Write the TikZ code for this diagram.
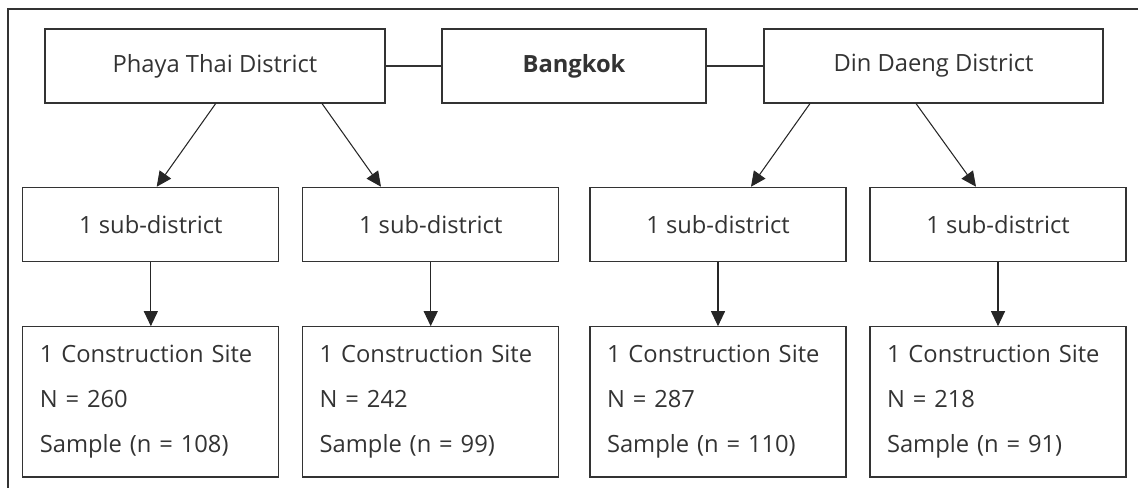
\documentclass[tikz,border=0pt]{standalone}
\usepackage{fontspec}
\setmainfont{Open Sans}
\usetikzlibrary{arrows.meta, positioning}
\tikzset{
    box/.style={draw=black!80, line width=0.6pt, minimum height=1.48cm, inner sep=0pt, text=black!80, font=\fontsize{13.5}{16}\selectfont}, % top boxes
    sub/.style={box, minimum width=5.12cm, minimum height=1.49cm}, % sub-district boxes
    site/.style={box, minimum width=5.12cm, minimum height=3.006cm, text width=4.44cm, align=left, font=\fontsize{13.5}{25.6}\selectfont}, % construction sites
}
\tikzstyle{arrow} = [line width=0.6pt, draw=black!85, -{Triangle[length=0.3cm, width=0.28cm]}]

\begin{document}
\begin{tikzpicture}
                [node distance=3.547cm, on grid]
                \useasboundingbox (0,0) rectangle (22.76,-9.76);
                \draw[line width=0.7pt, black!80] (22.76,-0.18) -- (0.16,-0.18) -- (0.16,-9.76);

                % Districts
                \node[box, minimum width=5.28cm] (bkk) at (11.48,-1.32) {\bfseries Bangkok};
                \node[box, minimum width=6.8cm] (pt) [left=7.18cm of bkk] {Phaya Thai District};
                \node[box, minimum width=6.78cm] (dd) [right=7.19cm of bkk] {Din Daeng District};

                % Sub-districts
                \node[sub] (pt1) at (3.017,-4.49) {1 sub-district};
                \node[sub] (pt2) at (8.614,-4.49) {1 sub-district};
                \node[sub] (dd1) at (14.36,-4.49) {1 sub-district};
                \node[sub] (dd2) at (19.96,-4.49) {1 sub-district};

                % Sites
                \node[site] (c1) [below=of pt1] {1 Construction Site\\N = 260\\Sample (n = 108)};
                \node[site] (c2) [below=of pt2] {1 Construction Site\\N = 242\\Sample (n = 99)};
                \node[site] (c3) [below=of dd1] {1 Construction Site\\N = 287\\Sample (n = 110)};
                \node[site] (c4) [below=of dd2] {1 Construction Site\\N = 218\\Sample (n = 91)};

                % Links
                \draw[line width=0.6pt, black!80] (pt) -- (bkk) (bkk) -- (dd);
                \draw[arrow] ([shift={(0.014,0)}]pt.south) -- ([shift={(0.117,0)}]pt1.north);
                \draw[arrow] ([shift={(2.14,0)}]pt.south) -- ([shift={(-0.994,0)}]pt2.north);
                \draw[arrow] ([shift={(-2.47,0)}]dd.south) -- ([shift={(0.66,0)}]dd1.north);
                \draw[arrow] ([shift={(-0.35,0)}]dd.south) -- ([shift={(-0.44,0)}]dd2.north);
                \foreach \s/\c in {pt1/c1, pt2/c2, dd1/c3, dd2/c4}
                    \draw[arrow] (\s) -- (\c);
            \end{tikzpicture}
\end{document}
